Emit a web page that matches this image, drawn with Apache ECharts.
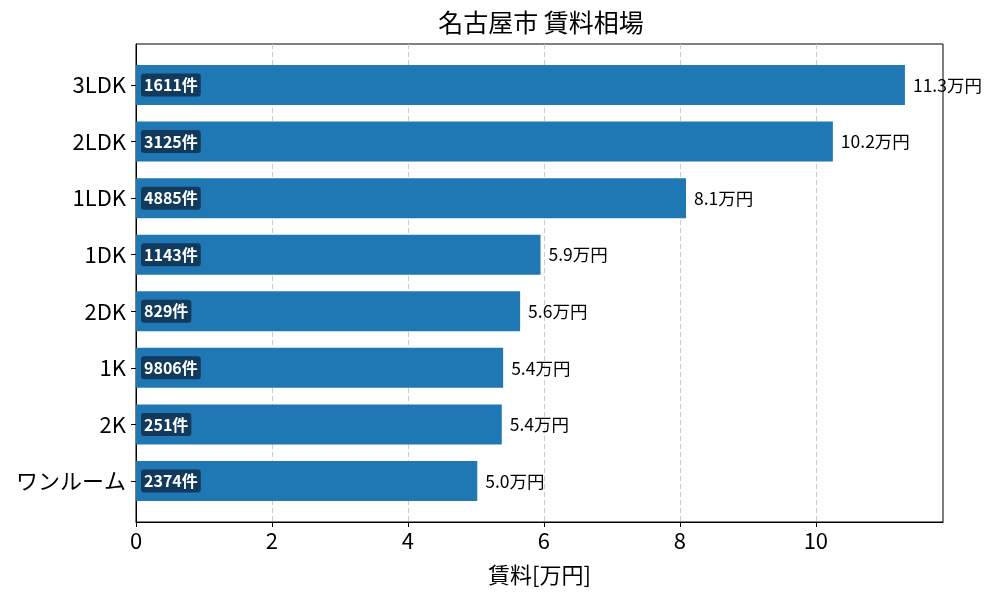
<!DOCTYPE html>
<html><head><meta charset="utf-8">
<script src="https://cdn.jsdelivr.net/npm/echarts@6/dist/echarts.min.js"></script>
<style>html,body{margin:0;padding:0;background:#fff}#c{width:1000px;height:600px}</style>
</head><body><div id="c"></div>
<script>
const categories = ['3LDK','2LDK','1LDK','1DK','2DK','1K','2K','ワンルーム'];
const rents = [11.31, 10.25, 8.09, 5.95, 5.65, 5.40, 5.38, 5.02];
const rentLabels = ['11.3','10.2','8.1','5.9','5.6','5.4','5.4','5.0'];
const counts = [1611, 3125, 4885, 1143, 829, 9806, 251, 2374];
const xTicks = [0,2,4,6,8,10];
const xMax = 11.87;

const FONT = '"Noto Sans CJK JP", "Noto Sans", sans-serif';
const chart = echarts.init(document.getElementById('c'));
chart.setOption({
  animation: false,
  title: {
    text: '名古屋市 賃料相場', left: 536, top: 5, textAlign: 'center',
    textStyle: { fontFamily: FONT, fontSize: 25, fontWeight: 'normal', color: '#000' }
  },
  grid: [
    { left: 136, right: 57, top: 44, bottom: 78, show: true, borderColor: '#000', borderWidth: 1, backgroundColor: 'transparent' },
    { left: 136, right: 57, top: 56.7, bottom: 90.7 }
  ],
  xAxis: [{
    gridIndex: 0, type: 'value', min: 0, max: xMax, interval: 2,
    name: '賃料[万円]', nameLocation: 'middle', nameGap: 42,
    nameTextStyle: { fontFamily: FONT, fontSize: 22, color: '#000' },
    axisLine: { show: true, lineStyle: { color: '#000', width: 1 } },
    axisTick: { show: true, length: 5, lineStyle: { color: '#000' } },
    axisLabel: { fontFamily: FONT, fontSize: 22, color: '#000', margin: 8,
      formatter: v => xTicks.includes(v) ? String(v) : '', showMaxLabel: false },
    splitLine: { show: true, showMinLine: false, showMaxLine: false, lineStyle: { color: '#cccccc', type: [5, 3], width: 1 } }
  }, {
    gridIndex: 1, type: 'value', min: 0, max: xMax, show: false
  }],
  yAxis: [{
    gridIndex: 0, type: 'value', min: 0, max: 1,
    axisLine: { show: true, lineStyle: { color: '#000', width: 1 } },
    axisTick: { show: false }, axisLabel: { show: false }, splitLine: { show: false }
  }, {
    gridIndex: 1, type: 'category', data: categories, inverse: true,
    axisLine: { show: false },
    axisTick: { show: true, length: 5, alignWithLabel: true, lineStyle: { color: '#000' } },
    axisLabel: { fontFamily: FONT, fontSize: 22, color: '#000', margin: 10 },
    splitLine: { show: false }
  }],
  series: [{
    type: 'bar', xAxisIndex: 1, yAxisIndex: 1, data: rents, barWidth: 40,
    itemStyle: { color: '#1f77b4' },
    label: {
      show: true, position: 'right', distance: 8,
      fontFamily: FONT, fontSize: 17.5, color: '#000',
      formatter: p => rentLabels[p.dataIndex] + '万円'
    },
    z: 3
  }, {
    type: 'bar', xAxisIndex: 1, yAxisIndex: 1, data: rents, barWidth: 40, barGap: '-100%',
    itemStyle: { color: 'transparent' },
    label: {
      show: true, position: 'insideLeft', distance: 5,
      fontFamily: FONT, fontSize: 16, fontWeight: 'bold', color: '#fff',
      backgroundColor: '#123a5c', borderRadius: 3, padding: [4, 3, 3, 3],
      formatter: p => counts[p.dataIndex] + '件'
    },
    z: 4, silent: true
  }]
});
</script></body></html>
